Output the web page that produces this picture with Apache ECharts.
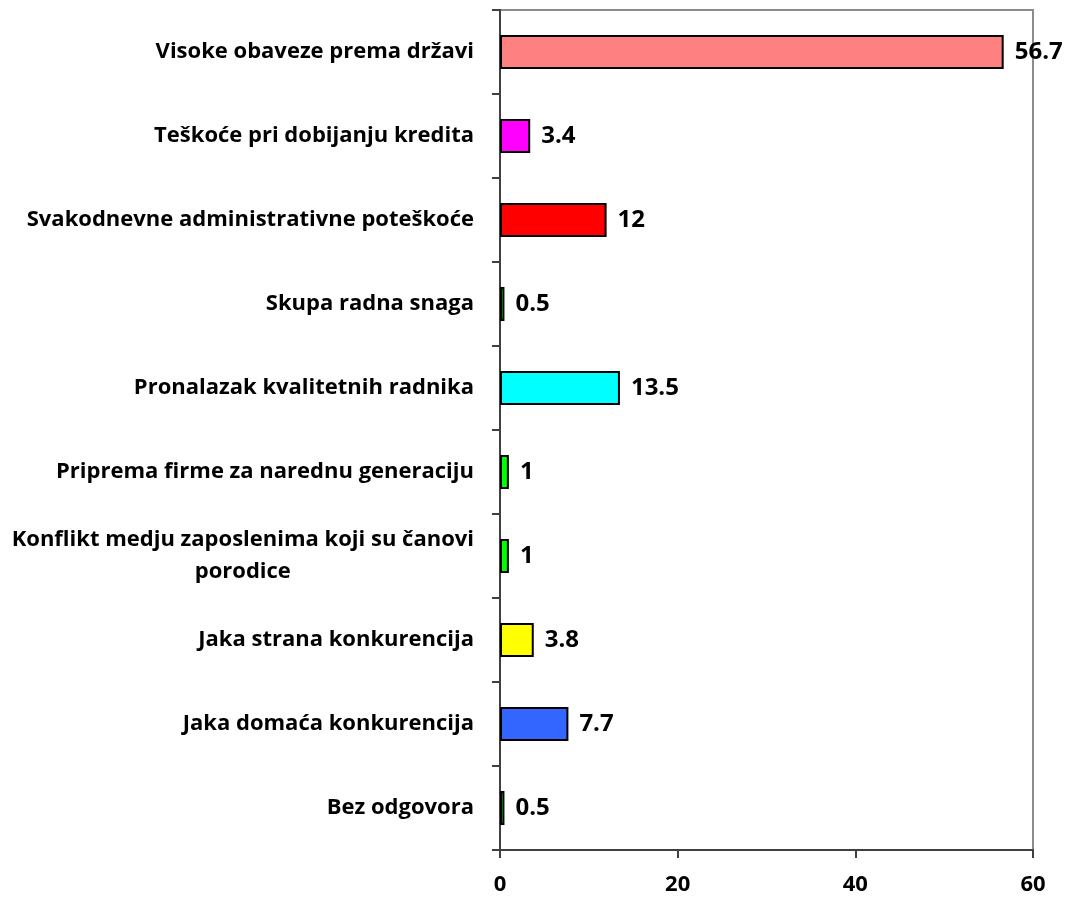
<!DOCTYPE html>
<html>
<head>
<meta charset="utf-8">
<script src="https://cdn.jsdelivr.net/npm/echarts@6/dist/echarts.min.js"></script>
<style>
  html, body { margin: 0; padding: 0; background: #fff; }
  #chart { width: 1066px; height: 897px; }
</style>
</head>
<body>
<div id="chart"></div>
<script>
// kategorije odozgo prema dolje
const categories = [
  'Visoke obaveze prema državi',
  'Teškoće pri dobijanju kredita',
  'Svakodnevne administrativne poteškoće',
  'Skupa radna snaga',
  'Pronalazak kvalitetnih radnika',
  'Priprema firme za narednu generaciju',
  'Konflikt medju zaposlenima koji su čanovi porodice',
  'Jaka strana konkurencija',
  'Jaka domaća konkurencija',
  'Bez odgovora'
];
const values = [56.7, 3.4, 12, 0.5, 13.5, 1, 1, 3.8, 7.7, 0.5];
const barColors = [
  '#FF8080', '#FF00FF', '#FF0000', '#00FF00', '#00FFFF',
  '#00FF00', '#00FF00', '#FFFF00', '#3366FF', '#00FF00'
];
const xTicks = [0, 20, 40, 60];

const font = '"Open Sans", sans-serif';

const chart = echarts.init(document.getElementById('chart'));
chart.setOption({
  animation: false,
  grid: {
    left: 500, right: 33, top: 10, bottom: 47,
    show: true, borderColor: '#8c8c8c', borderWidth: 2
  },
  xAxis: {
    type: 'value',
    min: xTicks[0],
    max: xTicks[xTicks.length - 1],
    interval: 20,
    splitLine: { show: false },
    axisLine: { show: true, lineStyle: { color: '#404040', width: 2 } },
    axisTick: { show: true, length: 8, lineStyle: { color: '#404040', width: 2 } },
    axisLabel: {
      color: '#000', fontWeight: 'bold', fontSize: 22, fontFamily: font, margin: 24
    }
  },
  yAxis: {
    type: 'category',
    inverse: true,
    data: categories,
    axisLine: { show: true, lineStyle: { color: '#404040', width: 2 } },
    axisTick: { show: true, length: 8, alignWithLabel: false, lineStyle: { color: '#404040', width: 2 } },
    axisLabel: {
      color: '#000', fontWeight: 'bold', fontSize: 22, fontFamily: font, margin: 26,
      formatter: function (v) {
        // dugi naziv ide u dva reda, drugi red centriran
        if (v.startsWith('Konflikt')) {
          return '{c|Konflikt medju zaposlenima koji su čanovi}\n{c|porodice}';
        }
        return v;
      },
      rich: {
        c: {
          align: 'center', color: '#000', fontWeight: 'bold',
          fontSize: 22, fontFamily: font, lineHeight: 32
        }
      }
    }
  },
  series: [{
    type: 'bar',
    barWidth: 34,
    data: values.map(function (v, i) {
      return { value: v, itemStyle: { color: barColors[i] } };
    }),
    itemStyle: { borderColor: '#000', borderWidth: 2 },
    label: {
      show: true,
      position: 'right',
      distance: 11,
      color: '#000',
      fontWeight: 'bold',
      fontSize: 24,
      fontFamily: font
    }
  }]
});
</script>
</body>
</html>
